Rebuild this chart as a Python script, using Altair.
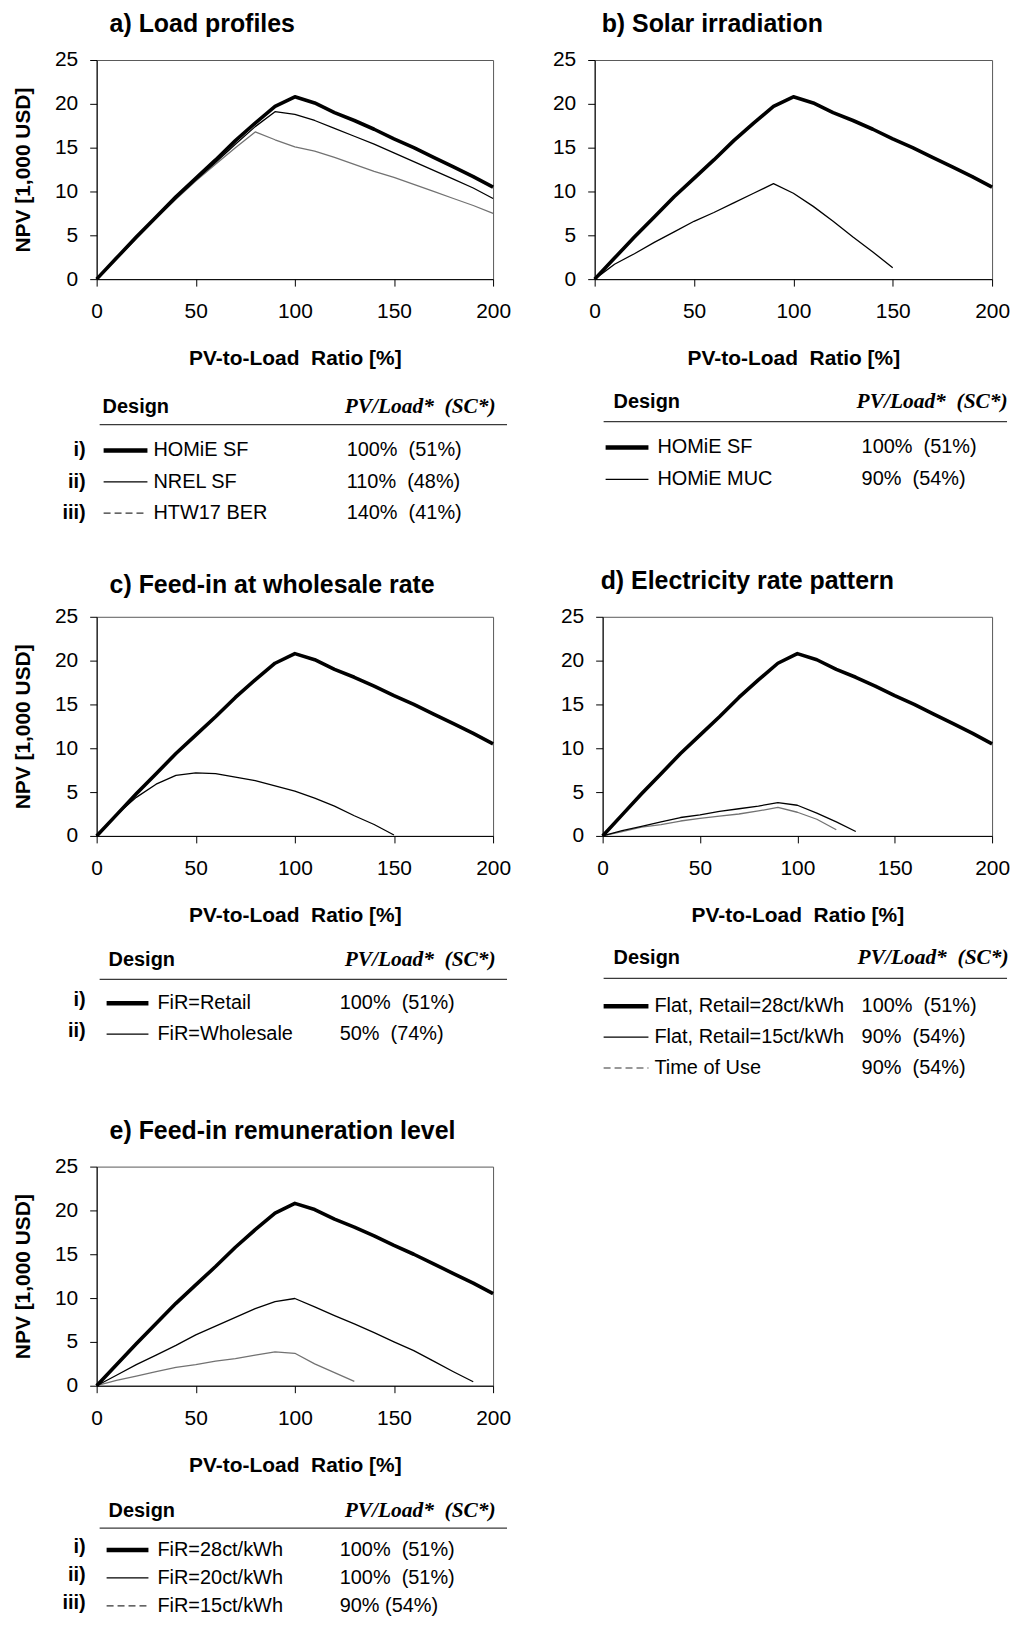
import altair as alt
import pandas as pd

FONT = "Liberation Sans"
SERIF = "Liberation Serif"
NB = "\u00a0"

X_TICKS = [0, 50, 100, 150, 200]
Y_TICKS = [0, 5, 10, 15, 20, 25]

# ---- data (NPV in 1,000 USD over PV-to-Load ratio in %) ----
PV_FULL = [0, 10, 20, 30, 40, 50, 60, 70, 80, 90, 100, 110, 120, 130, 140, 150, 160, 170, 180, 190, 200]
HOMIE_SF = [0, 2.4, 4.8, 7.1, 9.4, 11.5, 13.6, 15.8, 17.8, 19.7, 20.8, 20.1, 19.0, 18.1, 17.1, 16.0, 15.0, 13.9, 12.8, 11.7, 10.5]
NREL_SF = [0, 2.4, 4.7, 7.0, 9.2, 11.3, 13.3, 15.4, 17.4, 19.1, 18.8, 18.1, 17.2, 16.3, 15.4, 14.4, 13.4, 12.4, 11.4, 10.4, 9.2]
HTW17_BER = [0, 2.3, 4.6, 6.9, 9.1, 11.2, 13.1, 15.0, 16.8, 15.9, 15.1, 14.6, 13.9, 13.1, 12.3, 11.6, 10.8, 10.0, 9.2, 8.4, 7.5]

PV_MUC = [0, 10, 20, 30, 40, 50, 60, 70, 80, 90, 100, 110, 120, 130, 140, 150]
HOMIE_MUC = [0, 1.7, 2.9, 4.2, 5.4, 6.6, 7.6, 8.7, 9.8, 10.9, 9.8, 8.3, 6.6, 4.8, 3.1, 1.3]

PV_WHOLESALE = [0, 10, 20, 30, 40, 50, 60, 70, 80, 90, 100, 110, 120, 130, 140, 150]
FIR_WHOLESALE = [0, 2.4, 4.4, 5.9, 6.9, 7.2, 7.1, 6.7, 6.3, 5.7, 5.1, 4.3, 3.4, 2.3, 1.3, 0.1]

PV_FLAT15 = [0, 10, 20, 30, 40, 50, 60, 70, 80, 90, 100, 110, 120, 130]
FLAT_15 = [0, 0.6, 1.1, 1.6, 2.1, 2.4, 2.8, 3.1, 3.4, 3.8, 3.5, 2.6, 1.6, 0.5]
PV_TOU = [0, 10, 20, 30, 40, 50, 60, 70, 80, 90, 100, 110, 120]
TIME_OF_USE = [0, 0.5, 1.0, 1.3, 1.7, 2.0, 2.25, 2.5, 2.85, 3.25, 2.7, 1.9, 0.7]

PV_FIR20 = [0, 10, 20, 30, 40, 50, 60, 70, 80, 90, 100, 110, 120, 130, 140, 150, 160, 170, 180, 190]
FIR_20 = [0, 1.2, 2.4, 3.5, 4.6, 5.8, 6.8, 7.8, 8.8, 9.6, 9.95, 9.0, 8.0, 7.05, 6.05, 5.0, 4.0, 2.8, 1.6, 0.45]
PV_FIR15 = [0, 10, 20, 30, 40, 50, 60, 70, 80, 90, 100, 110, 120, 130]
FIR_15 = [0, 0.6, 1.1, 1.6, 2.1, 2.4, 2.8, 3.1, 3.5, 3.85, 3.7, 2.5, 1.5, 0.5]

# ---- text ----
TITLES = ["a) Load profiles", "b) Solar irradiation", "c) Feed-in at wholesale rate",
          "d) Electricity rate pattern", "e) Feed-in remuneration level"]
Y_TITLE = "NPV [1,000 USD]"
X_TITLE = "PV-to-Load" + NB + " Ratio [%]"
HEAD_DESIGN = "Design"
HEAD_OPT = "PV/Load*" + NB + " (SC*)"

LABELS_A = ["i)", "ii)", "iii)"]
NAMES_A = ["HOMiE SF", "NREL SF", "HTW17 BER"]
OPT_A = ["100%" + NB + " (51%)", "110%" + NB + " (48%)", "140%" + NB + " (41%)"]

NAMES_B = ["HOMiE SF", "HOMiE MUC"]
OPT_B = ["100%" + NB + " (51%)", "90%" + NB + " (54%)"]

LABELS_C = ["i)", "ii)"]
NAMES_C = ["FiR=Retail", "FiR=Wholesale"]
OPT_C = ["100%" + NB + " (51%)", "50%" + NB + " (74%)"]

NAMES_D = ["Flat, Retail=28ct/kWh", "Flat, Retail=15ct/kWh", "Time of Use"]
OPT_D = ["100%" + NB + " (51%)", "90%" + NB + " (54%)", "90%" + NB + " (54%)"]

LABELS_E = ["i)", "ii)", "iii)"]
NAMES_E = ["FiR=28ct/kWh", "FiR=20ct/kWh", "FiR=15ct/kWh"]
OPT_E = ["100%" + NB + " (51%)", "100%" + NB + " (51%)", "90% (54%)"]

# ---- styles ----
TITLE_SIZE = 25
LINE_STYLE = {
    "gray": dict(color="#727272", strokeWidth=1.3),
    "thin": dict(color="#000000", strokeWidth=1.3),
    "thick": dict(color="#000000", strokeWidth=3.6),
}
ROW_STYLES = ["i", "ii", "iii"]
SAMPLE_STYLE = {
    "i": dict(color="#000000", strokeWidth=4.6),
    "ii": dict(color="#000000", strokeWidth=1.2),
    "iii": dict(color="#333333", strokeWidth=1.2, strokeDash=[7, 4]),
}


def panel(title, series, names, values, labels, y_title, lay):
    w, h = lay["size"]

    if y_title:
        y_axis = alt.Axis(values=Y_TICKS, labelPadding=12, titlePadding=21, title=y_title)
    else:
        y_axis = alt.Axis(values=Y_TICKS, labelPadding=12, title=None)
    x_enc = alt.X("pv:Q", scale=alt.Scale(domain=[0, 200], nice=False),
                  axis=alt.Axis(values=X_TICKS, title=X_TITLE, labelPadding=15,
                                titlePadding=26, labelFlush=False))
    y_enc = alt.Y("npv:Q", scale=alt.Scale(domain=[0, 25], nice=False), axis=y_axis)

    line_layers = []
    for key, xs, ys in series:
        df = pd.DataFrame({"pv": xs, "npv": ys})
        line_layers.append(
            alt.Chart(df).mark_line(strokeJoin="round", strokeCap="butt", **LINE_STYLE[key])
            .encode(x=x_enc, y=y_enc)
        )
    lines = alt.layer(*line_layers)

    one = pd.DataFrame({"t": [title], "d": [HEAD_DESIGN], "o": [HEAD_OPT]})
    title_layer = alt.Chart(one).mark_text(
        align="left", baseline="top", font=FONT, fontSize=TITLE_SIZE, fontWeight="bold", color="#000"
    ).encode(text="t:N", x=alt.value(lay["tdx"]), y=alt.value(lay["tty"]))

    head_design = alt.Chart(one).mark_text(
        align="left", baseline="middle", font=FONT, fontSize=20, fontWeight="bold", color="#000"
    ).encode(text="d:N", x=alt.value(lay["dx"]), y=alt.value(h + lay["hy"]))
    head_opt = alt.Chart(one).mark_text(
        align="left", baseline="middle", font=SERIF, fontSize=21.5, fontWeight="bold",
        fontStyle="italic", color="#000"
    ).encode(text="o:N", x=alt.value(lay["ox"]), y=alt.value(h + lay["hy"]))
    head_rule = alt.Chart(one).mark_rule(color="#3a3a3a", strokeWidth=1.3).encode(
        x=alt.value(lay["rx"][0]), x2=alt.value(lay["rx"][1]), y=alt.value(h + lay["ry"]))

    n = len(names)
    tdf = pd.DataFrame({
        "row": list(range(n)),
        "name": names,
        "value": values,
        "style": ROW_STYLES[:n],
        "label": labels if labels else [""] * n,
    })
    r0, rs = lay["rows"]
    row_y = alt.Y("row:Q", scale=alt.Scale(domain=[0, 1], range=[h + r0, h + r0 + rs],
                                           nice=False, zero=False), axis=None)

    layers = [lines, title_layer, head_design, head_opt, head_rule]
    for st in ROW_STYLES[:n]:
        layers.append(
            alt.Chart(tdf).transform_filter(alt.datum.style == st)
            .mark_rule(strokeCap="butt", **SAMPLE_STYLE[st])
            .encode(x=alt.value(lay["sx"][0]), x2=alt.value(lay["sx"][1]), y=row_y)
        )
    layers.append(alt.Chart(tdf).mark_text(
        align="left", baseline="middle", font=FONT, fontSize=20, color="#000"
    ).encode(text="name:N", x=alt.value(lay["nx"]), y=row_y))
    layers.append(alt.Chart(tdf).mark_text(
        align="left", baseline="middle", font=FONT, fontSize=20, color="#000"
    ).encode(text="value:N", x=alt.value(lay["vx"]), y=row_y))
    if labels:
        layers.append(alt.Chart(tdf).mark_text(
            align="right", baseline="middle", font=FONT, fontSize=20, fontWeight="bold",
            color="#000", dy=lay.get("ldy", 0)
        ).encode(text="label:N", x=alt.value(-11), y=row_y))

    ex = lay["ext"]
    layers.append(alt.Chart(one).mark_rule(opacity=0, strokeWidth=0).encode(
        x=alt.value(ex[0]), x2=alt.value(ex[2]), y=alt.value(ex[1]), y2=alt.value(ex[3])))

    return alt.layer(*layers).resolve_scale(y="independent").properties(width=w, height=h)


LAY_A = dict(size=(398, 220), tdx=13, tty=-48.5, dx=6, ox=249, hy=128, rx=(3, 412), ry=146,
             rows=(172, 31.5), sx=(7, 51), nx=57, vx=251, ext=(-88, -48.5, 418, 506.5))
LAY_B = dict(size=(399, 220), tdx=7, tty=-48.5, dx=19, ox=263, hy=123, rx=(9, 414), ry=143,
             rows=(169, 32), sx=(11, 54), nx=63, vx=268, ext=(-80, -48.5, 417, 506.5))
LAY_C = dict(size=(398, 220), tdx=13, tty=-44, dx=12, ox=249, hy=125, rx=(3, 412), ry=144,
             rows=(168, 31), sx=(10, 52), nx=61, vx=244, ldy=-3, ext=(-88, -50.6, 418, 494.8))
LAY_D = dict(size=(391, 220), tdx=-2, tty=-47.5, dx=11, ox=256, hy=123, rx=(1, 406), ry=143,
             rows=(171, 31), sx=(1, 46), nx=52, vx=260, ext=(-88, -50.6, 409, 494.8))
LAY_E = dict(size=(398, 220), tdx=13, tty=-48, dx=12, ox=249, hy=126, rx=(3, 412), ry=143,
             rows=(165, 28), sx=(10, 52), nx=61, vx=244, ldy=-3, ext=(-88, -54.6, 418, 452))

pa = panel(TITLES[0],
           [("gray", PV_FULL, HTW17_BER), ("thin", PV_FULL, NREL_SF), ("thick", PV_FULL, HOMIE_SF)],
           NAMES_A, OPT_A, LABELS_A, Y_TITLE, LAY_A)
pb = panel(TITLES[1],
           [("thin", PV_MUC, HOMIE_MUC), ("thick", PV_FULL, HOMIE_SF)],
           NAMES_B, OPT_B, None, None, LAY_B)
pc = panel(TITLES[2],
           [("thin", PV_WHOLESALE, FIR_WHOLESALE), ("thick", PV_FULL, HOMIE_SF)],
           NAMES_C, OPT_C, LABELS_C, Y_TITLE, LAY_C)
pd_ = panel(TITLES[3],
            [("gray", PV_TOU, TIME_OF_USE), ("thin", PV_FLAT15, FLAT_15), ("thick", PV_FULL, HOMIE_SF)],
            NAMES_D, OPT_D, None, None, LAY_D)
pe = panel(TITLES[4],
           [("gray", PV_FIR15, FIR_15), ("thin", PV_FIR20, FIR_20), ("thick", PV_FULL, HOMIE_SF)],
           NAMES_E, OPT_E, LABELS_E, Y_TITLE, LAY_E)

row1 = alt.hconcat(pa, pb, spacing=0)
row2 = alt.hconcat(pc, pd_, spacing=0)

chart = alt.vconcat(row1, row2, pe, spacing=0).properties(padding=0).configure_view(
    stroke="#595959", strokeWidth=1
).configure_axis(
    labelFont=FONT, labelFontSize=21, labelColor="#000",
    titleFont=FONT, titleFontSize=21, titleFontWeight="bold", titleColor="#000",
    tickColor="#000", tickSize=7, tickWidth=1, domainColor="#000", domainWidth=1, grid=False,
)

chart.save("out.html", embed_options={"renderer": "svg", "actions": False})
